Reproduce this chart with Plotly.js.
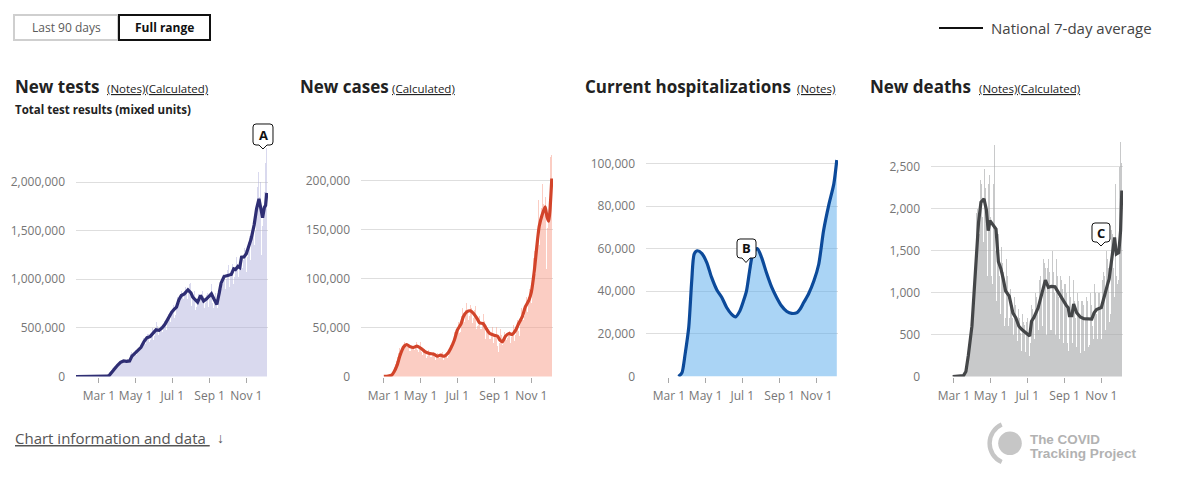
<!DOCTYPE html>
<html><head><meta charset="utf-8">
<script src="https://cdn.plot.ly/plotly-3.0.1.min.js"></script>
<style>
html,body{margin:0;padding:0;background:#fff;}
#wrap{position:relative;width:1181px;height:485px;overflow:hidden;}
#chart{position:absolute;left:0;top:0;width:1181px;height:485px;}
#logo{position:absolute;left:0;top:0;pointer-events:none;}
</style></head><body>
<div id="wrap"><div id="chart"></div>
<svg id="logo" width="1181" height="485">
<path d="M 1001.7 424.6 A 20.5 20.5 0 0 0 1001.7 462" fill="none" stroke="#c6c6c6" stroke-width="4.4"/>
<circle cx="1010" cy="443.3" r="11.8" fill="#c6c6c6"/>
<text x="1030" y="443.5" font-family="'Liberation Sans', sans-serif" font-size="12.5" font-weight="700" fill="#b2b2b2" textLength="70" lengthAdjust="spacingAndGlyphs">The COVID</text>
<text x="1030" y="458" font-family="'Liberation Sans', sans-serif" font-size="12.5" font-weight="700" fill="#b2b2b2" textLength="106" lengthAdjust="spacingAndGlyphs">Tracking Project</text>
</svg></div>
<script>
// ---------------- DATA ----------------
// Daily bars start 2020-03-01 (Sunday), one row per week, 40 weeks to 2020-12-05
const testsDailyK = [
0.5,0.6,0.8,1,1.2,1.5,2,
2,3,4,6,8,10,13,
15,20,25,35,45,55,70,
70,80,85,95,100,110,120,
110,115,120,130,140,140,150,
130,140,145,150,155,160,170,
140,140,145,150,170,180,175,
155,150,160,175,230,250,230,
210,220,230,240,260,270,250,
220,250,260,270,300,310,290,
270,290,330,350,400,390,370,
330,360,390,400,440,440,420,
350,340,380,420,480,500,450,
380,420,440,450,510,560,520,
420,430,460,490,520,530,500,
430,460,490,510,570,580,560,
480,520,560,590,640,650,620,
560,600,640,680,720,740,620,
600,630,680,720,800,820,770,
720,760,800,820,880,900,850,
760,800,840,860,920,950,880,
800,850,880,900,950,960,890,
730,760,810,830,880,880,810,
680,720,760,790,820,850,780,
740,790,820,850,880,900,830,
700,750,760,790,840,860,800,
720,760,800,820,900,950,870,
760,700,720,780,830,860,780,
690,700,760,800,880,960,900,
850,900,950,980,1050,1100,1000,
900,950,1000,1030,1100,1150,1070,
920,960,1020,1050,1120,1160,1090,
950,1020,1080,1100,1180,1230,1160,
980,1020,1080,1120,1200,1260,1190,
1050,1120,1200,1230,1320,1370,1300,
1080,1150,1230,1280,1380,1450,1360,
1200,1300,1380,1450,1550,1600,1500,
1350,1500,1580,1650,1800,1950,2100,
1700,1850,1950,2000,1250,1600,1550,
1350,1700,1900,2100,2200,2350,2150
];
const casesDailyK = [
0.05,0.1,0.1,0.15,0.2,0.3,0.4,
0.5,0.7,0.9,1.2,1.6,2.2,2.8,
3.5,4.5,6,7.5,10,13,17,
16,20,20,24,28,29,32,
26,24,25,29,31,33,35,
28,30,29,30,32,35,31,
28,26,26,29,30,34,31,
28,26,27,29,31,35,33,
27,23,25,28,30,35,29,
25,22,22,25,28,28,26,
21,19,21,22,27,26,24,
20,19,20,21,24,25,23,
20,18,17,20,22,24,25,
20,19,21,21,22,24,25,
18,17,19,21,22,25,25,
21,19,21,24,27,31,32,
27,28,33,37,38,45,43,
40,41,45,50,54,56,47,
44,45,56,62,62,70,63,
60,56,63,68,75,74,66,
61,58,62,70,73,75,70,
55,56,60,70,68,72,60,
48,48,52,53,57,62,57,
48,48,50,55,52,64,57,
45,38,44,48,47,52,48,
38,34,38,44,45,50,44,
34,31,41,42,44,50,43,
31,25,24,34,36,48,42,
34,32,38,39,45,48,42,
36,37,39,39,45,55,46,
34,32,40,38,45,53,50,
36,38,42,50,56,58,54,
46,41,51,59,64,70,58,
48,58,60,62,71,83,81,
60,66,74,79,89,99,84,
75,92,91,104,121,128,124,
105,119,137,144,161,180,162,
134,155,158,172,186,196,176,
143,170,175,183,110,206,152,
138,158,180,200,224,226,214
];
const deathsDaily = [
0,1,2,3,2,3,4,
4,5,6,8,10,12,15,
10,15,20,30,40,50,60,
100,130,170,220,270,330,390,
480,560,800,900,1000,1100,1200,
1150,1300,1900,1950,2000,2050,1900,
1600,1700,2350,2560,2300,2200,1900,
1600,1550,2480,2300,2250,2050,1800,
1200,1300,2300,2400,2200,1900,1600,
1200,1100,2200,2300,2757,1900,1500,
800,900,1700,1600,1700,1500,1200,
750,800,1550,1450,1350,1250,1050,
600,550,700,1400,1250,1200,950,
600,700,1100,1050,950,900,700,
450,500,950,950,850,750,650,
350,420,800,750,700,650,520,
300,380,750,700,650,620,500,
290,360,650,700,640,500,280,
250,400,900,850,900,800,700,
450,450,950,1000,950,900,800,
500,550,1150,1250,1200,1150,950,
600,650,1400,1450,1350,1300,1100,
500,550,1300,1400,1300,1250,1050,
550,550,1300,1500,1300,1250,1000,
500,500,1250,1400,1200,1150,950,
450,450,1200,1300,1150,1050,900,
400,450,1100,1100,1050,1000,800,
400,300,500,1200,1100,950,750,
350,400,1250,1150,900,850,700,
280,350,1000,950,900,850,700,
280,330,900,950,900,850,650,
300,400,700,950,950,900,650,
350,380,750,1000,900,850,600,
400,450,950,1100,1000,950,750,
400,450,1000,1050,1000,950,800,
450,550,1150,1300,1250,1200,1000,
550,650,1500,1400,1200,1300,1150,
650,750,1550,1750,1800,1700,1300,
900,950,2200,2300,1200,1250,1100,
850,1150,2500,2750,2800,2550,1400
];

// National 7-day averages
const testsAvgDates = ['2020-01-22','2020-03-10','2020-03-14','2020-03-18','2020-03-22','2020-03-27','2020-04-01','2020-04-06','2020-04-11','2020-04-16','2020-04-21','2020-04-25','2020-04-30','2020-05-05','2020-05-10','2020-05-15','2020-05-20','2020-05-25','2020-05-30','2020-06-04','2020-06-09','2020-06-14','2020-06-19','2020-06-24','2020-06-30','2020-07-04','2020-07-08','2020-07-12','2020-07-16','2020-07-21','2020-07-27','2020-08-01','2020-08-04','2020-08-08','2020-08-12','2020-08-17','2020-08-22','2020-08-27','2020-09-04','2020-09-08','2020-09-13','2020-09-17','2020-09-20','2020-09-25','2020-10-03','2020-10-07','2020-10-11','2020-10-14','2020-10-18','2020-10-21','2020-10-24','2020-10-28','2020-11-01','2020-11-05','2020-11-09','2020-11-14','2020-11-18','2020-11-22','2020-11-25','2020-11-28','2020-12-01','2020-12-03','2020-12-05'];
const testsAvgK = [0,0,3,10,40,85,115,145,160,155,160,210,240,260,300,360,400,410,440,480,475,500,540,600,662,690,714,790,833,850,892,860,817,790,765,833,776,800,851,800,741,860,960,1029,1039,1050,1108,1100,1132,1120,1228,1230,1262,1340,1417,1560,1725,1828,1720,1633,1740,1760,1890];

const casesAvgDates = ['2020-03-01','2020-03-08','2020-03-14','2020-03-18','2020-03-23','2020-03-28','2020-04-03','2020-04-08','2020-04-14','2020-04-19','2020-04-25','2020-05-02','2020-05-09','2020-05-16','2020-05-23','2020-05-29','2020-06-03','2020-06-09','2020-06-15','2020-06-20','2020-06-26','2020-07-01','2020-07-07','2020-07-11','2020-07-17','2020-07-23','2020-07-28','2020-08-03','2020-08-07','2020-08-13','2020-08-19','2020-08-24','2020-08-31','2020-09-06','2020-09-10','2020-09-14','2020-09-19','2020-09-25','2020-09-30','2020-10-06','2020-10-11','2020-10-17','2020-10-22','2020-10-28','2020-11-01','2020-11-06','2020-11-10','2020-11-14','2020-11-19','2020-11-24','2020-11-27','2020-11-30','2020-12-02','2020-12-05'];
const casesAvgK = [0.1,0.5,1.4,4.8,11.6,21.8,30.3,32.6,30.3,29.6,31,28.6,25.2,23.5,22.8,20.7,21.8,20.7,23.5,28.6,37,47.3,53.4,61,66,67,64.3,59,54.7,54,48,43.9,42.2,41.1,37,35.4,41.1,43.9,42.8,47.3,54,61,71,77.9,86,108,132,153,165,173,163,158.5,170,202];

const hospDates = ['2020-03-17','2020-03-20','2020-03-23','2020-03-28','2020-04-03','2020-04-08','2020-04-12','2020-04-17','2020-04-25','2020-05-03','2020-05-11','2020-05-20','2020-05-28','2020-06-05','2020-06-13','2020-06-20','2020-06-27','2020-07-03','2020-07-08','2020-07-14','2020-07-19','2020-07-26','2020-08-02','2020-08-10','2020-08-19','2020-08-27','2020-09-04','2020-09-13','2020-09-21','2020-09-30','2020-10-05','2020-10-11','2020-10-19','2020-10-28','2020-11-05','2020-11-13','2020-11-22','2020-11-30','2020-12-05'];
const hospK = [0,0.8,1.9,10.5,23,45,57.4,59,57.7,53.5,46.5,40.5,37.1,32.4,29.3,28,30.8,35.5,40.2,51.2,58.2,60,55.9,48.8,41.8,37.1,33.2,30.5,29.6,30,31.6,34.7,38.7,44.9,52.7,68.4,80.9,90.3,101.6];

const deathsAvgDates = ['2020-02-28','2020-03-10','2020-03-17','2020-03-21','2020-03-25','2020-03-31','2020-04-06','2020-04-11','2020-04-15','2020-04-20','2020-04-24','2020-04-27','2020-04-30','2020-05-03','2020-05-06','2020-05-10','2020-05-14','2020-05-18','2020-05-22','2020-05-26','2020-06-01','2020-06-07','2020-06-12','2020-06-17','2020-06-22','2020-06-27','2020-07-05','2020-07-08','2020-07-12','2020-07-19','2020-07-25','2020-07-31','2020-08-05','2020-08-10','2020-08-16','2020-08-22','2020-08-27','2020-09-04','2020-09-07','2020-09-09','2020-09-13','2020-09-16','2020-09-21','2020-09-27','2020-10-03','2020-10-08','2020-10-16','2020-10-20','2020-10-24','2020-11-01','2020-11-07','2020-11-11','2020-11-14','2020-11-19','2020-11-23','2020-11-26','2020-11-30','2020-12-03','2020-12-05'];
const deathsAvg = [0,3,10,60,250,600,1250,1840,2080,2120,1990,1740,1860,1830,1800,1760,1370,1290,1165,1020,960,760,700,600,560,530,484,660,705,820,990,1150,1065,1075,1070,1000,930,845,820,725,725,865,760,710,690,685,684,760,800,823,1000,1090,1163,1441,1660,1461,1480,1740,2219];

// Tick labels
const monthTickVals = ['2020-03-01','2020-05-01','2020-07-01','2020-09-01','2020-11-01'];
const monthTickText = ['Mar 1','May 1','Jul 1','Sep 1','Nov 1'];
const testsTickVals = [0,500,1000,1500,2000];
const testsTickText = ['0','500,000','1,000,000','1,500,000','2,000,000'];
const casesTickVals = [0,50,100,150,200];
const casesTickText = ['0','50,000','100,000','150,000','200,000'];
const hospTickVals = [0,20,40,60,80,100];
const hospTickText = ['0','20,000','40,000','60,000','80,000','100,000'];
const deathsTickVals = [0,500,1000,1500,2000,2500];
const deathsTickText = ['0','500','1,000','1,500','2,000','2,500'];

// ---------------- LAYOUT HELPERS ----------------
const W = 1181, H = 485;
const PX = x => x / W, PY = y => 1 - y / H;
const FONT = '"Open Sans", "Noto Sans", sans-serif';
const barStart = Date.UTC(2020, 2, 1);
const barDates = testsDailyK.map((_, i) => new Date(barStart + i * 864e5).toISOString().slice(0, 10));

const plotTop = 140, plotBottom = 376.5;
const ydom = [PY(plotBottom), PY(plotTop)];
const xdoms = [[76, 268], [361, 553], [646, 838], [931, 1123]].map(d => [PX(d[0]), PX(d[1])]);

function xax(i) {
  return {domain: xdoms[i], type: 'date', range: ['2020-01-23', '2020-12-07'],
    tickmode: 'array', tickvals: monthTickVals, ticktext: monthTickText,
    ticks: 'outside', ticklen: 5, tickwidth: 1, tickcolor: '#a8a8a8',
    ticklabelstandoff: 3,
    showgrid: false, zeroline: false, showline: false, fixedrange: true,
    tickfont: {family: FONT, size: 12, color: '#767676'}, anchor: i ? 'y' + (i + 1) : 'y'};
}
function yax(i, top, vals, text) {
  return {domain: ydom, range: [0, top], tickmode: 'array', tickvals: vals, ticktext: text,
    showgrid: true, gridcolor: '#dedede', gridwidth: 1, zeroline: false, showline: false,
    ticks: '', ticklabelstandoff: 10, fixedrange: true,
    tickfont: {family: FONT, size: 12, color: '#767676'}, anchor: i ? 'x' + (i + 1) : 'x'};
}

const traces = [
  {type: 'bar', x: barDates, y: testsDailyK, xaxis: 'x', yaxis: 'y', marker: {color: 'rgba(170,170,218,0.45)', line: {width: 0}}, hoverinfo: 'skip'},
  {type: 'scatter', mode: 'lines', x: testsAvgDates, y: testsAvgK, xaxis: 'x', yaxis: 'y', line: {color: '#2f2e74', width: 3.2}, hoverinfo: 'skip'},
  {type: 'bar', x: barDates, y: casesDailyK, xaxis: 'x2', yaxis: 'y2', marker: {color: 'rgba(247,155,135,0.5)', line: {width: 0}}, hoverinfo: 'skip'},
  {type: 'scatter', mode: 'lines', x: casesAvgDates, y: casesAvgK, xaxis: 'x2', yaxis: 'y2', line: {color: '#d2442a', width: 3.2, shape: 'spline', smoothing: 0.5}, hoverinfo: 'skip'},
  {type: 'scatter', mode: 'lines', x: hospDates, y: hospK, xaxis: 'x3', yaxis: 'y3', fill: 'tozeroy', fillcolor: 'rgba(85,169,235,0.5)', line: {color: '#0c4a9a', width: 3.2, shape: 'spline', smoothing: 0.7}, hoverinfo: 'skip'},
  {type: 'bar', x: barDates, y: deathsDaily, xaxis: 'x4', yaxis: 'y4', marker: {color: 'rgba(163,165,167,0.6)', line: {width: 0}}, hoverinfo: 'skip'},
  {type: 'scatter', mode: 'lines', x: deathsAvgDates, y: deathsAvg, xaxis: 'x4', yaxis: 'y4', line: {color: '#444648', width: 3.2}, hoverinfo: 'skip'}
];

function bubble(x0, y0, x1, y1, tipX, tipY) {
  const r = 3, t = 4;
  const segs = [['M', x0 + r, y0], ['L', x1 - r, y0], ['Q', x1, y0, x1, y0 + r], ['L', x1, y1 - r], ['Q', x1, y1, x1 - r, y1],
    ['L', tipX + t, y1], ['L', tipX, tipY], ['L', tipX - t, y1], ['L', x0 + r, y1], ['Q', x0, y1, x0, y1 - r],
    ['L', x0, y0 + r], ['Q', x0, y0, x0 + r, y0]];
  return segs.map(s => s[0] + s.slice(1).map((v, i) => (i % 2 === 0 ? PX(v) : PY(v)).toFixed(5)).join(',')).join(' ') + ' Z';
}

const shapes = [
  {type: 'rect', xref: 'paper', yref: 'paper', x0: PX(14), x1: PX(118), y0: PY(40), y1: PY(15), line: {color: '#cfcfcf', width: 2}},
  {type: 'rect', xref: 'paper', yref: 'paper', x0: PX(119), x1: PX(210), y0: PY(40), y1: PY(15), line: {color: '#111', width: 2}},
  {type: 'line', xref: 'paper', yref: 'paper', x0: PX(939), x1: PX(983), y0: PY(28), y1: PY(28), line: {color: '#111', width: 2}},
  {type: 'path', xref: 'paper', yref: 'paper', path: bubble(253, 124, 273, 145, 263, 149), fillcolor: '#fff', line: {color: '#111', width: 1}},
  {type: 'path', xref: 'paper', yref: 'paper', path: bubble(737, 239, 756, 258, 746, 262.5), fillcolor: '#fff', line: {color: '#111', width: 1}},
  {type: 'path', xref: 'paper', yref: 'paper', path: bubble(1092, 223, 1110, 242, 1101, 246), fillcolor: '#fff', line: {color: '#111', width: 1}}
];

function txt(text, x, y, size, color, anchor) {
  return {text: text, xref: 'paper', yref: 'paper', x: PX(x), y: PY(y), xanchor: anchor || 'left', yanchor: 'middle',
    showarrow: false, font: {family: FONT, size: size, color: color}};
}
const annotations = [
  txt('Last 90 days', 66, 27.5, 12, '#5a5a5a', 'center'),
  txt('<b>Full range</b>', 164.5, 27.5, 12, '#111', 'center'),
  txt('National 7-day average', 989, 27.5, 15, '#444'),
  txt('<b>New tests</b>', 13, 86, 17, '#222'),
  txt('<u>(Notes)(Calculated)</u>', 105, 88, 11.5, '#222'),
  txt('<b>Total test results (mixed units)</b>', 13, 109.5, 11.5, '#222'),
  txt('<b>New cases</b>', 298, 86, 17, '#222'),
  txt('<u>(Calculated)</u>', 390, 88, 11.5, '#222'),
  txt('<b>Current hospitalizations</b>', 583, 86, 17, '#222'),
  txt('<u>(Notes)</u>', 795, 88, 11.5, '#222'),
  txt('<b>New deaths</b>', 868, 86, 17, '#222'),
  txt('<u>(Notes)(Calculated)</u>', 977, 88, 11.5, '#222'),
  txt('<b>A</b>', 263, 134.5, 13, '#111', 'center'),
  txt('<b>B</b>', 746.5, 248.5, 13, '#111', 'center'),
  txt('<b>C</b>', 1101, 232.5, 13, '#111', 'center'),
  txt('<u>Chart information and data </u>', 13, 437.5, 15, '#555'),
  txt('\u2193', 220, 437.5, 14, '#555', 'center')
];

const layout = {
  width: W, height: H, margin: {l: 0, r: 0, t: 0, b: 0, pad: 0},
  paper_bgcolor: '#fff', plot_bgcolor: 'rgba(0,0,0,0)', showlegend: false, bargap: 0,
  font: {family: FONT},
  xaxis: xax(0), xaxis2: xax(1), xaxis3: xax(2), xaxis4: xax(3),
  yaxis: yax(0, 2433, testsTickVals, testsTickText),
  yaxis2: yax(1, 241.3, casesTickVals, casesTickText),
  yaxis3: yax(2, 111.0, hospTickVals, hospTickText),
  yaxis4: yax(3, 2822, deathsTickVals, deathsTickText),
  shapes: shapes, annotations: annotations
};
Plotly.newPlot('chart', traces, layout, {displayModeBar: false, staticPlot: true});
</script>
</body></html>
